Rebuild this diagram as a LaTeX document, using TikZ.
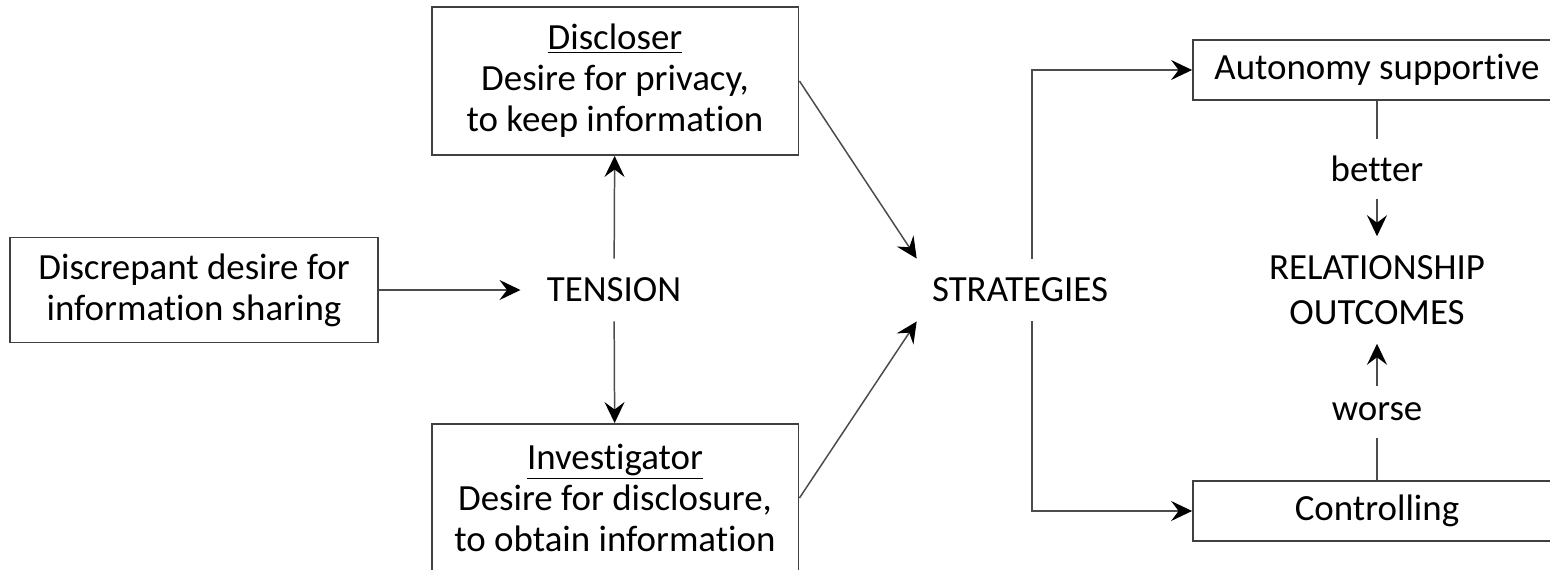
\documentclass[tikz,border=0pt]{standalone}
\usepackage{fontspec}
\setmainfont{Carlito}[Ligatures=NoCommon]
\usetikzlibrary{positioning,arrows.meta}

\tikzset{
  boxed/.style={draw=black!75, line width=1.1pt, align=center, minimum width=7.34cm, inner sep=0pt},
  term/.style={align=center, inner xsep=0.52cm, inner ysep=0.38cm},
  link/.style={draw=black!70, line width=0.85pt, -{Stealth[length=0.42cm,width=0.4cm,inset=0.15cm,color=black]}},
  tag/.style={fill=white, inner xsep=0pt, inner ysep=0.34cm}
}

\begin{document}
\begin{tikzpicture}[x=0.02cm, y=-0.02cm, font=\fontsize{21}{23.4}\selectfont]
      \useasboundingbox (0,0) rectangle (1550,570);
      % left part
      \node[boxed, minimum width=7.36cm, minimum height=2.1cm] (discrepant) at (194,290) {Discrepant desire for\\information sharing};
      \node[term] (tension) at (614,290) {TENSION};
      \node[boxed, minimum height=2.96cm] (discloser) at (615,81) {\underline{Discloser}\\Desire for privacy,\\to keep information};
      \node[boxed, minimum height=2.96cm] (investigator) at (615,498) {\underline{Investigator}\\Desire for disclosure,\\to obtain information};
      % right part
      \node[term, inner xsep=0.3cm] (strategies) at (1020,290) {STRATEGIES};
      \node[boxed, minimum width=7.36cm, minimum height=1.2cm] (autonomy) at (1377,70) {Autonomy supportive};
      \node[boxed, minimum width=7.36cm, minimum height=1.2cm] (controlling) at (1377,511) {Controlling};
      \node[term] (outcomes) at (1377,290) {RELATIONSHIP\\[2pt]OUTCOMES};

      \draw[link] (discrepant) -- (tension);
      \draw[link] (tension) -- (discloser);
      \draw[link] (tension) -- (investigator);
      \draw[link] (discloser.east) -- (strategies.north west);
      \draw[link] (investigator.east) -- (strategies.south west);
      \draw[link] ([xshift=0.24cm]strategies.north) |- (autonomy);
      \draw[link] ([xshift=0.24cm]strategies.south) |- (controlling);
      \draw[link] (autonomy) -- node[tag] {better} (outcomes);
      \draw[link] (controlling) -- node[tag] {worse} (outcomes);
\end{tikzpicture}
\end{document}
